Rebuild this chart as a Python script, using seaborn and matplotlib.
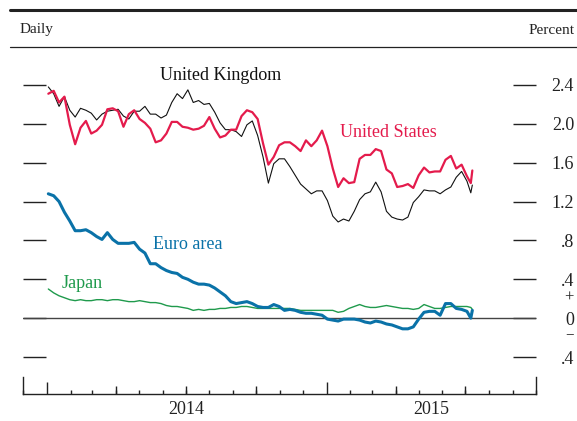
import matplotlib
matplotlib.use("Agg")
import matplotlib.pyplot as plt
import matplotlib.dates as mdates
import matplotlib.transforms as mtransforms
from matplotlib.lines import Line2D
import numpy as np
import pandas as pd
import seaborn as sns

# Weekly (Friday) observations plus the last two days of the sample
dates = list(pd.date_range("2014-01-03", "2015-07-03", freq="W-FRI")) + [
    pd.Timestamp("2015-07-08"), pd.Timestamp("2015-07-10")]

us = [2.31, 2.34, 2.22, 2.28, 1.99, 1.79, 1.96, 2.03, 1.90, 1.93,
      1.99, 2.15, 2.16, 2.13, 1.97, 2.10, 2.14, 2.05, 2.01, 1.95,
      1.81, 1.83, 1.90, 2.02, 2.02, 1.97, 1.96, 1.94, 1.95, 1.98,
      2.07, 1.95, 1.86, 1.88, 1.94, 1.94, 2.08, 2.14, 2.12, 2.05,
      1.80, 1.58, 1.66, 1.78, 1.81, 1.81, 1.77, 1.72, 1.83, 1.77,
      1.83, 1.93, 1.77, 1.54, 1.35, 1.44, 1.39, 1.40, 1.64, 1.68,
      1.68, 1.74, 1.72, 1.53, 1.49, 1.35, 1.36, 1.38, 1.34, 1.47,
      1.55, 1.50, 1.51, 1.51, 1.63, 1.67, 1.54, 1.58, 1.46,
      1.39, 1.52]

uk = [2.38, 2.31, 2.18, 2.28, 2.14, 2.07, 2.16, 2.14, 2.11, 2.04,
      2.10, 2.13, 2.14, 2.15, 2.08, 2.05, 2.13, 2.13, 2.18, 2.10,
      2.10, 2.06, 2.09, 2.22, 2.31, 2.26, 2.35, 2.22, 2.24, 2.20,
      2.21, 2.12, 2.01, 1.94, 1.94, 1.92, 1.87, 1.99, 2.03, 1.88,
      1.66, 1.39, 1.59, 1.64, 1.64, 1.56, 1.47, 1.38, 1.33, 1.28,
      1.31, 1.31, 1.21, 1.05, 0.99, 1.02, 1.00, 1.10, 1.22, 1.28,
      1.30, 1.40, 1.30, 1.10, 1.04, 1.02, 1.01, 1.04, 1.19, 1.25,
      1.32, 1.31, 1.31, 1.28, 1.32, 1.35, 1.45, 1.51, 1.41,
      1.29, 1.37]

euro = [1.28, 1.26, 1.20, 1.09, 1.00, 0.90, 0.90, 0.91, 0.88, 0.84,
        0.81, 0.88, 0.81, 0.77, 0.77, 0.77, 0.78, 0.71, 0.67, 0.56,
        0.56, 0.52, 0.49, 0.47, 0.46, 0.42, 0.40, 0.37, 0.35, 0.35,
        0.34, 0.31, 0.27, 0.23, 0.17, 0.15, 0.16, 0.17, 0.15, 0.12,
        0.11, 0.11, 0.14, 0.12, 0.08, 0.09, 0.08, 0.06, 0.05, 0.05,
        0.04, 0.03, -0.01, -0.02, -0.03, -0.01, -0.01, -0.01, -0.02, -0.04,
        -0.05, -0.03, -0.04, -0.06, -0.07, -0.09, -0.11, -0.11, -0.09, -0.01,
        0.06, 0.07, 0.07, 0.03, 0.15, 0.15, 0.10, 0.09, 0.07,
        0.00, 0.08]

japan = [0.30, 0.26, 0.23, 0.21, 0.19, 0.18, 0.19, 0.18, 0.18, 0.19,
         0.19, 0.18, 0.19, 0.19, 0.18, 0.17, 0.17, 0.18, 0.17, 0.16,
         0.16, 0.15, 0.13, 0.12, 0.12, 0.11, 0.10, 0.08, 0.09, 0.08,
         0.09, 0.09, 0.10, 0.10, 0.11, 0.11, 0.12, 0.12, 0.11, 0.10,
         0.10, 0.10, 0.10, 0.10, 0.10, 0.10, 0.09, 0.08, 0.08, 0.08,
         0.08, 0.08, 0.08, 0.08, 0.06, 0.07, 0.10, 0.12, 0.14, 0.12,
         0.11, 0.11, 0.12, 0.13, 0.12, 0.11, 0.10, 0.10, 0.09, 0.10,
         0.14, 0.12, 0.10, 0.10, 0.11, 0.12, 0.12, 0.12, 0.12,
         0.11, 0.09]

series_names = ["Japan", "Euro area", "United Kingdom", "United States"]
series_values = [japan, euro, uk, us]
colors = {"Japan": "#1f9a4c", "Euro area": "#0a72a8",
          "United Kingdom": "#111111", "United States": "#e41b4c"}
widths = {"Japan": 1.0, "Euro area": 2.2, "United Kingdom": 0.8,
          "United States": 1.6}

y_ticks = [-0.4, 0.0, 0.4, 0.8, 1.2, 1.6, 2.0, 2.4]
y_tick_labels = [".4", "0", ".4", ".8", "1.2", "1.6", "2.0", "2.4"]
year_labels = ["2014", "2015"]

df = pd.concat([pd.DataFrame({"date": dates, "value": vals, "series": name})
                for name, vals in zip(series_names, series_values)],
               ignore_index=True)

sns.set_theme(style="white")
plt.rcParams["font.family"] = ["Liberation Serif", "DejaVu Serif"]
plt.rcParams["font.size"] = 13

fig = plt.figure(figsize=(5.77, 4.21), dpi=100)
ax = fig.add_axes([0.0399, 0.0641, 0.889, 0.8171])

x_min, x_max = pd.Timestamp("2013-12-01"), pd.Timestamp("2015-10-01")
y_min, y_max = -0.781, 2.76

ax.axhline(0, color="#444444", lw=1.0, zorder=1)

sns.lineplot(data=df, x="date", y="value", hue="series", hue_order=series_names,
             palette=colors, size="series", sizes=widths,
             size_order=series_names, legend=False, ax=ax, zorder=3)

ax.set_xlim(x_min, x_max)
ax.set_ylim(y_min, y_max)
ax.set_xlabel("")
ax.set_ylabel("")

# Spines: only the baseline plus short end caps
ax.spines["top"].set_visible(False)
for side in ["left", "right", "bottom"]:
    ax.spines[side].set_color("#222222")
    ax.spines[side].set_linewidth(1.0)
cap = 17 / 97.1
ax.spines["left"].set_bounds(y_min, y_min + cap)
ax.spines["right"].set_bounds(y_min, y_min + cap)

# Y ticks on both sides, labels on the right
ax.set_yticks(y_ticks)
ax.set_yticklabels(y_tick_labels)
ax.tick_params(axis="y", which="major", direction="in", length=16.5, width=1.0,
               color="#222222", left=True, right=True, labelleft=False,
               labelright=True, pad=27.4, labelsize=13, labelcolor="#222222")
for lab in ax.get_yticklabels():
    lab.set_horizontalalignment("right")

# Sign markers around the zero label
sign_tr = mtransforms.blended_transform_factory(ax.transAxes, ax.transData)
ax.annotate("+", xy=(1, 0.215), xycoords=sign_tr, xytext=(27.4, 0),
            textcoords="offset points", ha="right", va="center", fontsize=12,
            color="#222222", annotation_clip=False)
ax.annotate("\u2212", xy=(1, -0.17), xycoords=sign_tr, xytext=(27.4, 0),
            textcoords="offset points", ha="right", va="center", fontsize=11,
            color="#222222", annotation_clip=False)

# X ticks: years (long), quarters (medium), months (short)
ax.xaxis.set_major_locator(mdates.YearLocator())
ax.xaxis.set_minor_locator(mdates.MonthLocator())
ax.xaxis.set_major_formatter(plt.NullFormatter())
ax.tick_params(axis="x", which="major", direction="in", length=8.6, width=1.0,
               color="#222222", bottom=True, labelbottom=False)
ax.tick_params(axis="x", which="minor", direction="in", length=2.9, width=1.0,
               color="#222222", bottom=True)
qax = ax.secondary_xaxis("bottom")
qax.set_xticks([mdates.date2num(d) for d in
                pd.date_range("2014-04-01", "2015-07-01", freq="QS")
                if d.month != 1])
qax.tick_params(axis="x", direction="in", length=5.8, width=1.0,
                color="#222222", labelbottom=False)
qax.spines["bottom"].set_visible(False)

# Year labels centred under each year's span
year_spans = [(pd.Timestamp("2014-01-01"), pd.Timestamp("2015-01-01")),
              (pd.Timestamp("2015-01-01"), x_max)]
for lab, (a, b) in zip(year_labels, year_spans):
    mid = a + (b - a) / 2
    ax.annotate(lab, xy=(mdates.date2num(mid), 0),
                xycoords=("data", "axes fraction"), xytext=(0, -5),
                textcoords="offset points", ha="center", va="top",
                fontsize=13, color="#222222", annotation_clip=False)

# Series labels
text_specs = [("United Kingdom", "2014-05-28", 2.50),
              ("United States", "2015-01-18", 1.91),
              ("Euro area", "2014-05-20", 0.76),
              ("Japan", "2014-01-20", 0.36)]
for name, d, v in text_specs:
    ax.text(mdates.date2num(pd.Timestamp(d)), v, name, color=colors[name],
            ha="left", va="center", fontsize=13)

# Header rules and captions
fig.add_artist(Line2D([10 / 577, 1.0], [1 - 10 / 421] * 2, color="#222222",
                      lw=2.2, transform=fig.transFigure))
fig.add_artist(Line2D([10 / 577, 1.0], [1 - 47 / 421] * 2, color="#222222",
                      lw=0.9, transform=fig.transFigure))
fig.text(20 / 577, 1 - 30 / 421, "Daily", ha="left", va="center",
         fontsize=11, color="#222222")
fig.text(575 / 577, 1 - 30 / 421, "Percent", ha="right", va="center",
         fontsize=11, color="#222222")

fig.savefig("out.png", dpi=100)
